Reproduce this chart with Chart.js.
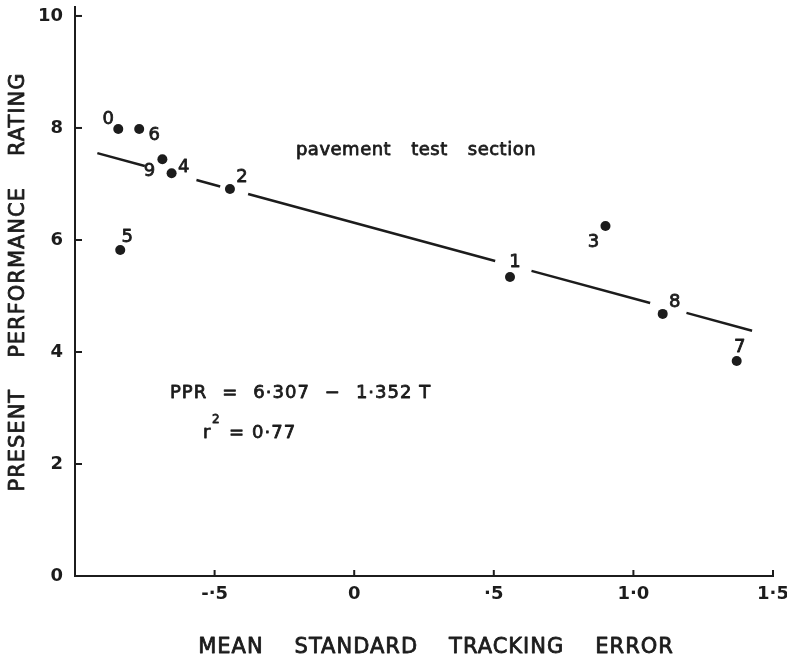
<!DOCTYPE html>
<html>
<head>
<meta charset="utf-8">
<script src="https://cdn.jsdelivr.net/npm/chart.js@4.4.0/dist/chart.umd.min.js"></script>
<style>
    html, body { margin: 0; padding: 0; background: #fff; }
    #wrap { width: 787px; height: 660px; }
</style>
</head>
<body>
<div id="wrap"><canvas id="pprGraph" width="787" height="660"></canvas></div>
<script>
// test sections: number, mean standard tracking error, present performance rating
var sectionNames = ["0", "6", "9", "4", "2", "5", "1", "3", "8", "7"];
var trackingError = [-0.845, -0.77, -0.687, -0.654, -0.445, -0.838, 0.558, 0.9, 1.105, 1.37];
var performanceRating = [7.98, 7.98, 7.44, 7.19, 6.91, 5.82, 5.34, 6.25, 4.68, 3.84];

var xTicks = [-0.5, 0, 0.5, 1.0, 1.5];
var xTickLabels = ["-\u00b75", "0", "\u00b75", "1\u00b70", "1\u00b75"];
var yTicks = [0, 2, 4, 6, 8, 10];

// regression PPR = 6.307 - 1.352 T, drawn broken where it passes the labels
var fitIntercept = 6.307;
var fitSlope = -1.352;
var fitSegments = [[-0.92, -0.75], [-0.565, -0.48], [-0.38, 0.505], [0.635, 1.06], [1.19, 1.425]];

var xTitleWords = ["MEAN", "STANDARD", "TRACKING", "ERROR"];
var yTitleWords = ["PRESENT", "PERFORMANCE", "RATING"];

var ink = "#1c1c1c";
var fontFamily = "'DejaVu Sans', sans-serif";

var datasets = [];
datasets.push({
    type: "scatter",
    label: "sections",
    data: trackingError.map(function (t, i) { return { x: t, y: performanceRating[i] }; }),
    pointRadius: 5,
    pointHoverRadius: 5,
    backgroundColor: ink,
    borderWidth: 0,
});
for (var seg of fitSegments) {
    datasets.push({
        type: "line",
        label: "fit",
        data: seg.map(function (t) { return { x: t, y: fitIntercept + fitSlope * t }; }),
        borderColor: ink,
        borderWidth: 2.5,
        pointRadius: 0,
        fill: false,
    });
}

// where each section number sits relative to its dot (px)
var labelOffsets = {
    "0": [-10, -10], "6": [15, 6], "9": [-13, 12], "4": [12, -6], "2": [12, -12],
    "5": [7, -13], "1": [5, -15], "3": [-12, 16], "8": [12, -12], "7": [3, -14],
};

// lettering: fill plus a thin stroke so the strokes come out heavier
function letter(ctx, text, x, y) {
    ctx.fillText(text, x, y);
    ctx.strokeText(text, x, y);
}

// words laid out with a fixed gap, centred on cx
function spacedWords(ctx, words, gap, cx, y) {
    var widths = words.map(function (w) { return ctx.measureText(w).width; });
    var total = widths.reduce(function (a, b) { return a + b; }, 0) + gap * (words.length - 1);
    var x = cx - total / 2;
    ctx.textAlign = "left";
    words.forEach(function (w, i) {
        letter(ctx, w, x, y);
        x += widths[i] + gap;
    });
}

var annotations = {
    id: "annotations",
    afterDraw: function (chart) {
        var ctx = chart.ctx;
        var xs = chart.scales.x;
        var ys = chart.scales.y;
        var area = chart.chartArea;
        ctx.save();
        ctx.strokeStyle = ink;
        ctx.fillStyle = ink;
        ctx.lineWidth = 2;
        // inward tick marks
        for (var v of xTicks) {
            var px = xs.getPixelForValue(v);
            ctx.beginPath();
            ctx.moveTo(px, area.bottom);
            ctx.lineTo(px, area.bottom - 6);
            ctx.stroke();
        }
        for (var v of yTicks) {
            var py = ys.getPixelForValue(v);
            ctx.beginPath();
            ctx.moveTo(area.left, py);
            ctx.lineTo(area.left + 7, py);
            ctx.stroke();
        }

        ctx.lineWidth = 0.8;
        ctx.lineJoin = "round";

        // section numbers
        ctx.textAlign = "center";
        ctx.textBaseline = "middle";
        ctx.font = "18px " + fontFamily;
        var pts = chart.getDatasetMeta(0).data;
        pts.forEach(function (p, i) {
            var off = labelOffsets[sectionNames[i]];
            letter(ctx, sectionNames[i], p.x + off[0], p.y + off[1]);
        });

        // axis titles
        ctx.font = "21px " + fontFamily;
        ctx.letterSpacing = "1px";
        spacedWords(ctx, xTitleWords, 31, 436, 648);
        ctx.save();
        ctx.translate(19, 282);
        ctx.rotate(-Math.PI / 2);
        spacedWords(ctx, yTitleWords, 31, 0, 0);
        ctx.restore();

        // notes
        ctx.letterSpacing = "0.5px";
        ctx.font = "18px " + fontFamily;
        spacedWords(ctx, ["pavement", "test", "section"], 20, 416, 150);

        ctx.letterSpacing = "1px";
        ctx.textAlign = "left";
        var eq = ["PPR", "=", "6\u00b7307", "\u2212", "1\u00b7352 T"];
        var x = 170;
        eq.forEach(function (w) {
            letter(ctx, w, x, 393);
            x += ctx.measureText(w).width + 15;
        });
        letter(ctx, "r", 203, 433);
        ctx.font = "12px " + fontFamily;
        letter(ctx, "2", 212, 420);
        ctx.font = "18px " + fontFamily;
        letter(ctx, "=", 229, 433);
        letter(ctx, "0\u00b777", 252, 433);
        ctx.restore();
    },
};

var pprGraph = new Chart("pprGraph", {
    data: { datasets: datasets },
    options: {
        responsive: false,
        animation: false,
        layout: { padding: { left: 0, right: 14, top: 7, bottom: 0 } },
        plugins: {
            legend: { display: false },
            tooltip: { enabled: false },
        },
        scales: {
            x: {
                type: "linear",
                min: -1.0,
                max: 1.5,
                afterBuildTicks: function (scale) {
                    scale.ticks = xTicks.map(function (v) { return { value: v }; });
                },
                afterFit: function (scale) {
                    scale.height = 84;
                    scale.paddingLeft = 0;
                    scale.paddingRight = 0;
                },
                ticks: {
                    callback: function (value, index) { return xTickLabels[index]; },
                    font: { family: fontFamily, size: 18, weight: "bold" },
                    color: ink,
                    padding: 8,
                    maxRotation: 0,
                },
                grid: { drawOnChartArea: false, drawTicks: false },
                border: { display: true, color: ink, width: 2 },
            },
            y: {
                type: "linear",
                min: 0,
                max: 10.16,
                afterBuildTicks: function (scale) {
                    scale.ticks = yTicks.map(function (v) { return { value: v }; });
                },
                afterFit: function (scale) {
                    scale.width = 75;
                    scale.paddingTop = 0;
                    scale.paddingBottom = 0;
                },
                ticks: {
                    font: { family: fontFamily, size: 18, weight: "bold" },
                    color: ink,
                    padding: 12,
                },
                grid: { drawOnChartArea: false, drawTicks: false },
                border: { display: true, color: ink, width: 2 },
            },
        },
    },
    plugins: [annotations],
});
</script>
</body>
</html>
